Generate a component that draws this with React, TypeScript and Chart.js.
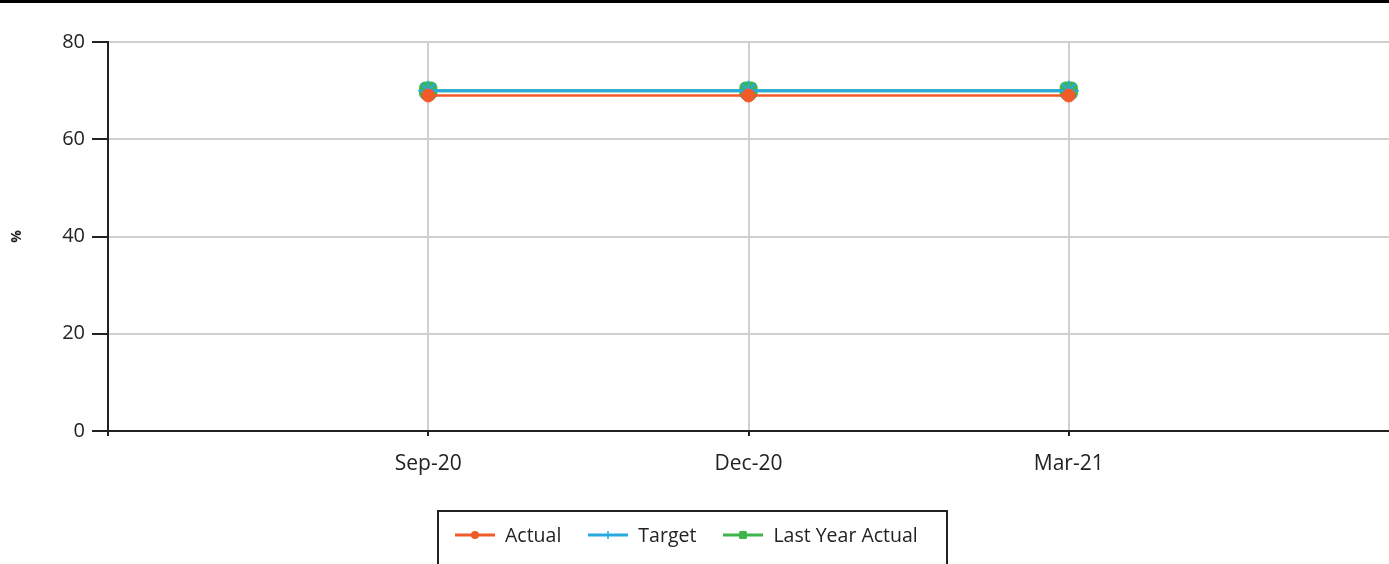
import React, { useEffect, useRef } from "react";
import { Chart, registerables } from "chart.js";

Chart.register(...registerables);

const categories = ["Sep-20", "Dec-20", "Mar-21"];
const actualValues = [69, 69, 69];
const targetValues = [70, 70, 70];
const lastYearValues = [70, 70, 70];
const yTicks = [0, 20, 40, 60, 80];

const RED = "#F15A29";
const BLUE = "#29A9E0";
const GREEN = "#3DB54A";
const DARK = "#222222";
const GRID = "#d0d0d0";
const FONT = "'Open Sans', 'DejaVu Sans', sans-serif";

const legendItems = [
  { label: "Actual", color: RED, marker: "circle" },
  { label: "Target", color: BLUE, marker: "star" },
  { label: "Last Year Actual", color: GREEN, marker: "square" },
];

function LegendSymbol({ color, marker }: { color: string; marker: string }) {
  return (
    <svg width={40} height={12} style={{ display: "block" }}>
      <line x1={0} y1={6} x2={40} y2={6} stroke={color} strokeWidth={3} />
      {marker === "circle" && <circle cx={20} cy={6} r={4} fill={color} />}
      {marker === "star" && (
        <g stroke={color} strokeWidth={1.5}>
          <line x1={20} y1={2} x2={20} y2={10} />
          <line x1={16} y1={6} x2={24} y2={6} />
        </g>
      )}
      {marker === "square" && <rect x={16} y={2} width={8} height={8} rx={1.5} fill={color} />}
    </svg>
  );
}

export default function App() {
  const ref = useRef<HTMLCanvasElement | null>(null);

  useEffect(() => {
    document.body.style.margin = "0";
    const canvas = ref.current;
    if (!canvas) return;
    const toPts = (vals: number[]) => vals.map((v, i) => ({ x: i, y: v }));
    const chart = new Chart(canvas, {
      type: "line",
      data: {
        datasets: [
          {
            label: "Actual",
            data: toPts(actualValues),
            borderColor: RED,
            backgroundColor: RED,
            borderWidth: 2.5,
            pointStyle: "circle",
            pointRadius: 6.5,
            pointBorderWidth: 1,
          },
          {
            label: "Target",
            data: toPts(targetValues),
            borderColor: BLUE,
            backgroundColor: BLUE,
            borderWidth: 3,
            pointStyle: "star",
            pointRadius: 10,
            pointBorderWidth: 2,
          },
          {
            label: "Last Year Actual",
            data: toPts(lastYearValues),
            borderColor: GREEN,
            backgroundColor: GREEN,
            borderWidth: 3,
            pointStyle: "rectRounded",
            pointRadius: 10,
            pointBorderWidth: 1,
          },
        ],
      },
      options: {
        animation: false,
        responsive: false,
        events: [],
        layout: { autoPadding: false, padding: { top: 42, left: 0, right: 0, bottom: 0 } },
        plugins: { legend: { display: false }, tooltip: { enabled: false } },
        scales: {
          x: {
            type: "linear",
            min: -1,
            max: categories.length,
            afterBuildTicks: (scale: any) => {
              const t = [];
              for (let i = -1; i <= categories.length; i++) t.push({ value: i });
              scale.ticks = t;
            },
            afterFit: (scale: any) => {
              scale.height = 564 - 431;
              scale.paddingRight = 0;
              scale.paddingLeft = 0;
            },
            ticks: {
              autoSkip: false,
              maxRotation: 0,
              padding: 15,
              color: DARK,
              font: { family: FONT, size: 21 },
              callback: (v: any) => categories[v as number] ?? "",
            },
            border: { color: DARK, width: 2 },
            grid: {
              color: (ctx: any) =>
                ctx.tick && ctx.tick.value >= 0 && ctx.tick.value < categories.length ? GRID : "rgba(0,0,0,0)",
              tickColor: (ctx: any) =>
                ctx.tick && ctx.tick.value < categories.length ? DARK : "rgba(0,0,0,0)",
              lineWidth: 2,
              tickWidth: 2,
              tickLength: 5,
            },
          },
          y: {
            min: 0,
            max: 80,
            afterBuildTicks: (scale: any) => {
              scale.ticks = yTicks.map((v) => ({ value: v }));
            },
            afterFit: (scale: any) => {
              scale.width = 108;
            },
            ticks: {
              padding: 7,
              color: DARK,
              font: { family: FONT, size: 20 },
            },
            title: {
              display: true,
              text: "%",
              color: DARK,
              font: { family: FONT, size: 14, weight: "bold" },
              padding: { top: 9, bottom: 0 },
            },
            border: { color: DARK, width: 2 },
            grid: {
              color: GRID,
              lineWidth: 2,
              tickColor: DARK,
              tickWidth: 2,
              tickLength: 16,
            },
          },
        },
      },
    });
    return () => chart.destroy();
  }, []);

  return (
    <div style={{ position: "absolute", left: 0, top: 0, width: 1389, height: 564, background: "#fff", overflow: "hidden" }}>
      <canvas ref={ref} width={1389} height={564} style={{ position: "absolute", left: 0, top: 0 }} />
      <div style={{ position: "absolute", left: 0, top: 0, width: 1389, height: 3, background: "#000" }} />
      <div
        style={{
          position: "absolute",
          left: 437,
          top: 510,
          width: 511,
          height: 60,
          border: `2px solid ${DARK}`,
          boxSizing: "border-box",
          fontFamily: FONT,
          fontSize: 19.5,
          color: DARK,
        }}
      >
        <div style={{ display: "flex", alignItems: "center", position: "absolute", left: 16, top: 13, whiteSpace: "nowrap" }}>
          {legendItems.map((it, i) => (
            <div key={it.label} style={{ display: "flex", alignItems: "center", marginLeft: i === 0 ? 0 : 27 }}>
              <LegendSymbol color={it.color} marker={it.marker} />
              <span style={{ marginLeft: 10, lineHeight: "20px" }}>{it.label}</span>
            </div>
          ))}
        </div>
      </div>
    </div>
  );
}
